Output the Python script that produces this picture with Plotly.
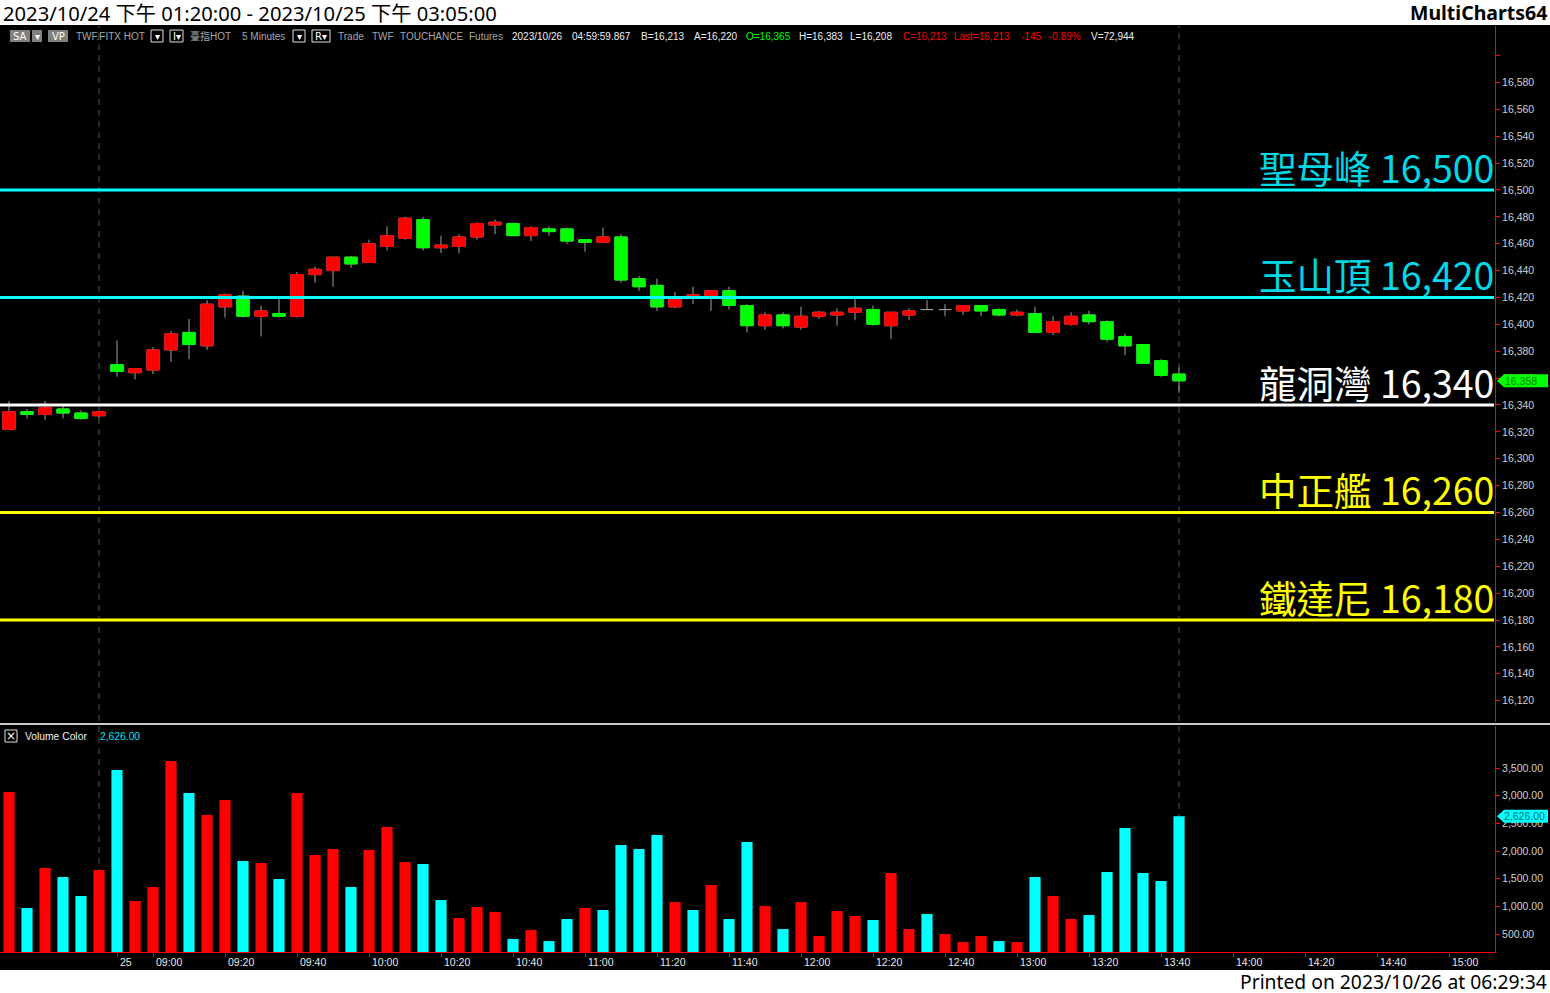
import plotly.graph_objects as go

# ---------------- data ----------------
bar_times = ["13:20", "13:25", "13:30", "13:35", "13:40", "13:45",
             "08:50", "08:55", "09:00", "09:05", "09:10", "09:15", "09:20", "09:25", "09:30", "09:35",
             "09:40", "09:45", "09:50", "09:55", "10:00", "10:05", "10:10", "10:15", "10:20", "10:25",
             "10:30", "10:35", "10:40", "10:45", "10:50", "10:55", "11:00", "11:05", "11:10", "11:15",
             "11:20", "11:25", "11:30", "11:35", "11:40", "11:45", "11:50", "11:55", "12:00", "12:05",
             "12:10", "12:15", "12:20", "12:25", "12:30", "12:35", "12:40", "12:45", "12:50", "12:55",
             "13:00", "13:05", "13:10", "13:15", "13:20", "13:25", "13:30", "13:35", "13:40", "13:45"]

opens = [16322, 16335, 16333, 16337, 16334, 16332,
         16370, 16364, 16366, 16381, 16394, 16384, 16413, 16421, 16406, 16408,
         16406, 16437, 16440, 16450, 16446, 16458, 16464, 16478, 16457, 16458,
         16465, 16474, 16475, 16466, 16471, 16471, 16463, 16461, 16465, 16434,
         16429, 16413, 16420, 16420, 16425, 16414, 16399, 16407, 16398, 16406,
         16407, 16409, 16411, 16399, 16407, 16411, 16411, 16410, 16414, 16411,
         16407, 16408, 16394, 16400, 16407, 16402, 16391, 16385, 16373, 16363]
highs = [16343, 16337, 16343, 16339, 16336, 16335,
         16388, 16367, 16383, 16395, 16404, 16418, 16423, 16425, 16414, 16421,
         16439, 16443, 16450, 16451, 16463, 16473, 16480, 16480, 16466, 16467,
         16476, 16478, 16475, 16473, 16473, 16472, 16463, 16472, 16467, 16436,
         16434, 16424, 16428, 16425, 16428, 16415, 16409, 16409, 16413, 16410,
         16412, 16419, 16414, 16409, 16412, 16418, 16415, 16414, 16414, 16412,
         16411, 16413, 16406, 16409, 16410, 16403, 16393, 16385, 16374, 16368]
lows = [16322, 16330, 16329, 16330, 16329, 16330,
        16361, 16359, 16363, 16372, 16374, 16381, 16405, 16405, 16391, 16405,
        16405, 16431, 16428, 16442, 16446, 16455, 16463, 16455, 16453, 16453,
        16463, 16467, 16466, 16462, 16466, 16460, 16454, 16461, 16431, 16425,
        16410, 16412, 16415, 16410, 16411, 16394, 16396, 16397, 16396, 16404,
        16399, 16403, 16399, 16389, 16403, 16411, 16406, 16407, 16406, 16406,
        16406, 16394, 16392, 16399, 16400, 16387, 16377, 16371, 16361, 16349]
closes = [16335, 16333, 16338, 16334, 16330, 16335,
          16365, 16367, 16381, 16393, 16385, 16415, 16422, 16406, 16410, 16406,
          16437, 16441, 16450, 16445, 16460, 16466, 16479, 16457, 16459, 16465,
          16475, 16476, 16466, 16472, 16469, 16462, 16461, 16465, 16433, 16428,
          16413, 16419, 16422, 16425, 16414, 16399, 16407, 16399, 16406, 16409,
          16409, 16412, 16400, 16409, 16410, 16411, 16411, 16414, 16410, 16407,
          16409, 16394, 16402, 16406, 16402, 16389, 16384, 16371, 16362, 16358]

volumes = [3066, 970, 1693, 1530, 1187, 1657,
           3464, 1096, 1349, 3627, 3048, 2651, 2922, 1819, 1783, 1494,
           3048, 1928, 2036, 1349, 2018, 2434, 1801, 1765, 1114, 789,
           988, 898, 410, 572, 373, 771, 970, 934, 2108, 2036,
           2289, 1078, 934, 1386, 771, 2163, 1006, 590, 1078, 464,
           916, 825, 753, 1602, 590, 861, 500, 355, 464, 373,
           355, 1530, 1187, 771, 843, 1620, 2416, 1602, 1458, 2626]
# volume bar colour as seen: R = red, C = cyan
vol_dir = list("RCRCCR" "CRRRCRRCRC" "RRRCRRRCCR" "RRCRCCRCCC" "CRCRCCRCRR"
               "RRCRRCRRRC" "RCRRCCCCCC")

levels = [16500, 16420, 16340, 16260, 16180]
level_names = ["聖母峰", "玉山頂", "龍洞灣", "中正艦", "鐵達尼"]

tick_index = [6, 8, 12, 16, 20, 24, 28, 32, 36, 40, 44, 48, 52, 56, 60, 64, 68, 72, 76, 80]
tick_labels = ["25", "09:00", "09:20", "09:40", "10:00", "10:20", "10:40", "11:00", "11:20", "11:40",
               "12:00", "12:20", "12:40", "13:00", "13:20", "13:40", "14:00", "14:20", "14:40", "15:00"]

price_ticks = list(range(16120, 16601, 20))
volume_ticks = [500, 1000, 1500, 2000, 2500, 3000, 3500]

# ---------------- style ----------------
W, H = 1550, 993
UP, DN, WICK = "#ff0000", "#00ff00", "#a0a0a0"
VOL_C = {"R": "#ff0000", "C": "#00ffff"}
LEVEL_LINE = ["#00ffff", "#00ffff", "#ffffff", "#ffff00", "#ffff00"]
LEVEL_TEXT = ["#00d8e8", "#00d8e8", "#ffffff", "#ffff00", "#ffff00"]
AX_RED = "#ff0000"
SMALL = "Liberation Sans, Arial, Noto Sans CJK TC"
CJK = "Noto Sans CJK TC, Noto Sans, sans-serif"


def px(x):
    return x / W


def py(y):
    return 1 - y / H


X_RIGHT = 1495
x_range = [-0.5, (X_RIGHT - 9) / 18]
P_RANGE = [16104.1, 16622.0]
V_RANGE = [175, 4259]
p_per_px = (P_RANGE[1] - P_RANGE[0]) / (722 - 26)
v_per_px = (V_RANGE[1] - V_RANGE[0]) / (952 - 726)

idx = list(range(len(opens)))

fig = go.Figure()

# wicks (+ doji crosses) in grey
fig.add_trace(go.Candlestick(
    x=idx, open=opens, high=highs, low=lows, close=closes,
    increasing=dict(line=dict(color=WICK, width=1), fillcolor=WICK),
    decreasing=dict(line=dict(color=WICK, width=1), fillcolor=WICK),
    whiskerwidth=0, xaxis="x", yaxis="y", showlegend=False, hoverinfo="skip"))

# bodies on top, in colour
bo, bh, bl, bc = [], [], [], []
for o, c in zip(opens, closes):
    if o == c:
        bo.append(None); bh.append(None); bl.append(None); bc.append(None)
    else:
        bo.append(o); bc.append(c); bh.append(max(o, c)); bl.append(min(o, c))
fig.add_trace(go.Candlestick(
    x=idx, open=bo, high=bh, low=bl, close=bc,
    increasing=dict(line=dict(color=UP, width=1), fillcolor=UP),
    decreasing=dict(line=dict(color=DN, width=1), fillcolor=DN),
    whiskerwidth=0, xaxis="x", yaxis="y", showlegend=False, hoverinfo="skip"))

fig.add_trace(go.Bar(
    x=idx, y=volumes, width=0.62, marker=dict(color=[VOL_C[d] for d in vol_dir], line=dict(width=0)),
    xaxis="x2", yaxis="y2", showlegend=False, hoverinfo="skip"))

shapes = []
annotations = []

# white title and footer bands
shapes.append(dict(type="rect", xref="paper", yref="paper", x0=0, x1=1, y0=py(25), y1=1,
                   fillcolor="#ffffff", line=dict(width=0), layer="below"))
shapes.append(dict(type="rect", xref="paper", yref="paper", x0=0, x1=1, y0=0, y1=py(970),
                   fillcolor="#ffffff", line=dict(width=0), layer="below"))
# panel separator
shapes.append(dict(type="line", xref="paper", yref="paper", x0=0, x1=1, y0=py(724), y1=py(724),
                   line=dict(color="#c8c8c8", width=2)))

# dashed session / cursor lines (behind the bars)
for i in (5, 65):
    shapes.append(dict(type="line", xref="x", yref="paper", x0=i, x1=i, y0=py(952), y1=py(26),
                       line=dict(color="#505050", width=1, dash="6px,5px"), layer="below"))

# horizontal level lines + labels
for lv, nm, lc, tc in zip(levels, level_names, LEVEL_LINE, LEVEL_TEXT):
    shapes.append(dict(type="line", xref="paper", yref="y", x0=0, x1=px(X_RIGHT - 1), y0=lv, y1=lv,
                       line=dict(color=lc, width=3)))
    annotations.append(dict(xref="paper", yref="y", x=px(X_RIGHT + 1), y=lv, xanchor="right",
                            yanchor="bottom", yshift=-6, showarrow=False, text=f"{nm} {lv:,}",
                            font=dict(family=CJK, size=37.5, color=tc)))

# last price tag
p_last = closes[-1]
hh = 6.5 * p_per_px
shapes.append(dict(type="path", xref="paper", yref="y",
                   path=f"M {px(1497)},{p_last} L {px(1504)},{p_last + hh} L {px(1548)},{p_last + hh} "
                        f"L {px(1548)},{p_last - hh} L {px(1504)},{p_last - hh} Z",
                   fillcolor="#00ff00", line=dict(width=0)))
annotations.append(dict(xref="paper", yref="y", x=px(1503), y=p_last, xanchor="left", yanchor="middle",
                        showarrow=False, text=f"{p_last:,}",
                        font=dict(family=SMALL, size=10.5, color="#008000")))

# last volume tag
v_last = volumes[-1]
vh = 6.5 * v_per_px
shapes.append(dict(type="path", xref="paper", yref="y2",
                   path=f"M {px(1497)},{v_last} L {px(1504)},{v_last + vh} L {px(1548)},{v_last + vh} "
                        f"L {px(1548)},{v_last - vh} L {px(1504)},{v_last - vh} Z",
                   fillcolor="#00ffff", line=dict(width=0)))
annotations.append(dict(xref="paper", yref="y2", x=px(1502), y=v_last, xanchor="left", yanchor="middle",
                        showarrow=False, text=f"{v_last:,.2f}",
                        font=dict(family=SMALL, size=10.5, color="#007070")))

# x tick labels (left aligned after the tick, like MultiCharts)
for ti, tl in zip(tick_index, tick_labels):
    annotations.append(dict(xref="x2", yref="paper", x=ti, y=py(962), xanchor="left", yanchor="middle",
                            xshift=1, showarrow=False, text=tl,
                            font=dict(family=SMALL, size=10.5, color="#e8e8e8")))

# title / footer texts
annotations.append(dict(xref="paper", yref="paper", x=px(1), y=py(12.5), xanchor="left", yanchor="middle",
                        showarrow=False, text="2023/10/24 下午 01:20:00 - 2023/10/25 下午 03:05:00",
                        font=dict(family="Noto Sans, Noto Sans CJK TC", size=20.2, color="#000000")))
annotations.append(dict(xref="paper", yref="paper", x=px(1549), y=py(12.5), xanchor="right", yanchor="middle",
                        showarrow=False, text="<b>MultiCharts64</b>",
                        font=dict(family="Noto Sans", size=19.5, color="#000000")))
annotations.append(dict(xref="paper", yref="paper", x=px(1549), y=py(981.5), xanchor="right", yanchor="middle",
                        showarrow=False, text="Printed on 2023/10/26 at 06:29:34",
                        font=dict(family="Noto Sans", size=19.3, color="#000000")))

# header row of price panel
GRAY, WHITE, GREEN, RED = "#a8a8a8", "#f0f0f0", "#00ff00", "#ff0000"
header_items = [
    (75, "TWF.FITX HOT", GRAY), (189, "臺指HOT", GRAY), (241, "5 Minutes", GRAY),
    (337, "Trade", GRAY), (371, "TWF", GRAY), (399, "TOUCHANCE", GRAY), (468, "Futures", GRAY),
    (511, "2023/10/26", WHITE), (571, "04:59:59.867", WHITE), (640, "B=16,213", WHITE),
    (693, "A=16,220", WHITE), (745, "O=16,365", GREEN), (798, "H=16,383", WHITE),
    (849, "L=16,208", WHITE), (902, "C=16,213", RED), (953, "Last=16,213", RED),
    (1020, "-145", RED), (1048, "-0.89%", RED), (1090, "V=72,944", WHITE),
]
for hx, ht, hc in header_items:
    annotations.append(dict(xref="paper", yref="paper", x=px(hx - 1), y=py(36), xanchor="left", yanchor="middle",
                            showarrow=False, text=ht, font=dict(family=SMALL, size=10, color=hc)))

# header buttons
buttons = [(10, 30, "SA", "#808080", None), (32, 42, "▾", "#808080", None), (48, 68, "VP", "#808080", None),
           (151, 163, "▾", "#000000", "#e0e0e0"), (170, 183, "I▾", "#000000", "#e0e0e0"),
           (293, 305, "▾", "#000000", "#e0e0e0"), (312, 330, "R▾", "#000000", "#e0e0e0")]
for bx0, bx1, bt, bf, bl_ in buttons:
    shapes.append(dict(type="rect", xref="paper", yref="paper", x0=px(bx0), x1=px(bx1), y0=py(42), y1=py(30),
                       fillcolor=bf, line=dict(width=1 if bl_ else 0, color=bl_ or bf)))
    annotations.append(dict(xref="paper", yref="paper", x=px((bx0 + bx1) / 2), y=py(36), xanchor="center",
                            yanchor="middle", showarrow=False, text=bt,
                            font=dict(family="DejaVu Sans, Liberation Sans", size=10, color="#ffffff")))

# volume panel header
shapes.append(dict(type="rect", xref="paper", yref="paper", x0=px(5), x1=px(17), y0=py(742), y1=py(730),
                   fillcolor="#000000", line=dict(width=1, color="#e0e0e0")))
annotations.append(dict(xref="paper", yref="paper", x=px(11), y=py(736), xanchor="center", yanchor="middle",
                        showarrow=False, text="×", font=dict(family="DejaVu Sans", size=12, color="#ffffff")))
annotations.append(dict(xref="paper", yref="paper", x=px(23), y=py(736), xanchor="left", yanchor="middle",
                        showarrow=False, text="Volume Color", font=dict(family=SMALL, size=10.3, color=WHITE)))
annotations.append(dict(xref="paper", yref="paper", x=px(98), y=py(736), xanchor="left", yanchor="middle",
                        showarrow=False, text=f"{v_last:,.2f}",
                        font=dict(family=SMALL, size=10.3, color="#00e5ee")))

axis_common = dict(showgrid=False, zeroline=False, fixedrange=True)
fig.update_layout(
    width=W, height=H, autosize=False,
    margin=dict(l=0, r=0, t=0, b=0, pad=0),
    paper_bgcolor="#000000", plot_bgcolor="rgba(0,0,0,0)",
    boxmode="overlay", boxgap=0.32, boxgroupgap=0,
    barmode="overlay",
    showlegend=False,
    xaxis=dict(domain=[0, px(X_RIGHT)], range=x_range, anchor="y", showticklabels=False, ticks="",
               showline=False, rangeslider=dict(visible=False), **axis_common),
    xaxis2=dict(domain=[0, px(X_RIGHT)], range=x_range, anchor="y2", matches="x", showticklabels=False,
                tickmode="array", tickvals=tick_index, ticks="outside", ticklen=4, tickcolor=AX_RED,
                showline=True, linecolor=AX_RED, linewidth=1, rangeslider=dict(visible=False), **axis_common),
    yaxis=dict(domain=[py(722), py(26)], range=P_RANGE, anchor="x", side="right",
               tickmode="array", tickvals=price_ticks,
               ticktext=[f"{t:,}" if t <= 16580 else "" for t in price_ticks],
               ticks="outside", ticklen=4, tickcolor=AX_RED, showline=True, linecolor=AX_RED, linewidth=1,
               tickfont=dict(family=SMALL, size=10.5, color="#d0d0d0"), **axis_common),
    yaxis2=dict(domain=[py(952), py(726)], range=V_RANGE, anchor="x2", side="right",
                tickmode="array", tickvals=volume_ticks, ticktext=[f"{t:,.2f}" for t in volume_ticks],
                ticks="outside", ticklen=4, tickcolor=AX_RED, showline=True, linecolor=AX_RED, linewidth=1,
                tickfont=dict(family=SMALL, size=10.5, color="#d0d0d0"), **axis_common),
    shapes=shapes,
    annotations=annotations,
)

fig.write_html("out.html", config={"displayModeBar": False, "staticPlot": True},
               post_script="document.body.style.margin='0';document.body.style.overflow='hidden';")
